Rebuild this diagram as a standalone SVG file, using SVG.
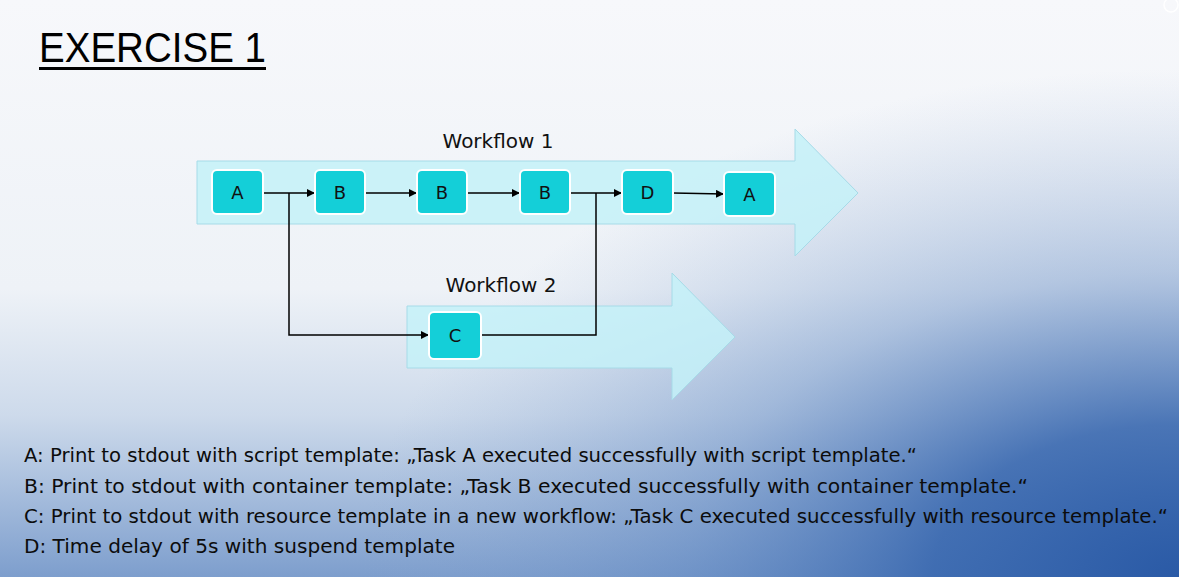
<svg xmlns="http://www.w3.org/2000/svg" width="1179" height="577" viewBox="0 0 1179 577">
<defs>
<linearGradient id="bgv" x1="0" y1="0" x2="0" y2="577" gradientUnits="userSpaceOnUse">
<stop offset="0" stop-color="#f7f8fb"/>
<stop offset="0.5" stop-color="#eef2f7"/>
<stop offset="0.72" stop-color="#cddaeb"/>
<stop offset="1" stop-color="#7d9ecd"/>
</linearGradient>
<radialGradient id="bgr" cx="1179" cy="577" r="820" gradientUnits="userSpaceOnUse" gradientTransform="translate(0,577) scale(1,0.62) translate(0,-577)">
<stop offset="0" stop-color="#2a5aa6" stop-opacity="1"/>
<stop offset="0.3" stop-color="#3464ad" stop-opacity="0.85"/>
<stop offset="0.6" stop-color="#5a83bf" stop-opacity="0.4"/>
<stop offset="1" stop-color="#8eaad3" stop-opacity="0"/>
</radialGradient>
<marker id="ah" viewBox="0 0 10 10" refX="10" refY="5" markerWidth="8" markerHeight="8" markerUnits="userSpaceOnUse" orient="auto">
<path d="M0,0 L10,5 L0,10 z" fill="#000"/>
</marker>
<style>
.band{fill:#c4f1f8;fill-opacity:0.85;stroke:#a6dbe8;stroke-width:1}
.node rect{fill:#14cfd8;stroke:#ffffff;stroke-width:2}
.node text{font-family:"DejaVu Sans",sans-serif;font-size:18px;fill:#111;text-anchor:middle}
.lbl{font-family:"DejaVu Sans",sans-serif;font-size:20px;fill:#111;text-anchor:middle}
.desc{font-family:"DejaVu Sans",sans-serif;font-size:19px;fill:#0c0c0c}
.conn{fill:none;stroke:#000;stroke-width:1.5}
</style>
</defs>
<rect x="0" y="0" width="1179" height="577" fill="url(#bgv)"/>
<rect x="0" y="0" width="1179" height="577" fill="url(#bgr)"/>
<circle cx="1171" cy="5" r="7" fill="none" stroke="#ffffff" stroke-width="1.5"/>

<g id="title">
<text x="39" y="62" font-family="'Liberation Sans',sans-serif" font-size="42" fill="#000" textLength="227" lengthAdjust="spacingAndGlyphs">EXERCISE 1</text>
<rect x="39" y="67" width="227" height="3" fill="#000"/>
</g>

<g id="workflow1">
<path class="band" d="M197,161 L795,161 L795,129 L858,193 L795,256 L795,224 L197,224 Z"/>
<text class="lbl" x="498" y="148">Workflow 1</text>
</g>
<g id="workflow2">
<path class="band" d="M407,306 L672,306 L672,273 L735,337 L672,400 L672,368 L407,368 Z"/>
<text class="lbl" x="501" y="292">Workflow 2</text>
</g>

<g id="connectors">
<path class="conn" d="M263,193 L315,193" marker-end="url(#ah)"/>
<path class="conn" d="M365,193 L417,193" marker-end="url(#ah)"/>
<path class="conn" d="M467,193 L520,193" marker-end="url(#ah)"/>
<path class="conn" d="M570,193 L622,193" marker-end="url(#ah)"/>
<path class="conn" d="M673,193 L724,194" marker-end="url(#ah)"/>
<path class="conn" d="M289,193 L289,335 L429,335" marker-end="url(#ah)"/>
<path class="conn" d="M481,335 L596,335 L596,193"/>
</g>

<g id="nodeA1" class="node"><rect x="212" y="170" width="51" height="44" rx="5"/><text x="237.5" y="199">A</text></g>
<g id="nodeB1" class="node"><rect x="315" y="170" width="50" height="44" rx="5"/><text x="340" y="199">B</text></g>
<g id="nodeB2" class="node"><rect x="417" y="170" width="50" height="44" rx="5"/><text x="442" y="199">B</text></g>
<g id="nodeB3" class="node"><rect x="520" y="170" width="50" height="44" rx="5"/><text x="545" y="199">B</text></g>
<g id="nodeD" class="node"><rect x="622" y="170" width="51" height="44" rx="5"/><text x="647.5" y="199">D</text></g>
<g id="nodeA2" class="node"><rect x="724" y="172" width="51" height="44" rx="5"/><text x="749.5" y="201">A</text></g>
<g id="nodeC" class="node"><rect x="429" y="312" width="52" height="47" rx="5"/><text x="455" y="342">C</text></g>

<g id="description">
<text class="desc" x="24" y="462" textLength="893" lengthAdjust="spacingAndGlyphs">A: Print to stdout with script template: „Task A executed successfully with script template.“</text>
<text class="desc" x="24" y="493" textLength="1004" lengthAdjust="spacingAndGlyphs">B: Print to stdout with container template: „Task B executed successfully with container template.“</text>
<text class="desc" x="24" y="523" textLength="1144" lengthAdjust="spacingAndGlyphs">C: Print to stdout with resource template in a new workflow: „Task C executed successfully with resource template.“</text>
<text class="desc" x="24" y="553" textLength="431" lengthAdjust="spacingAndGlyphs">D: Time delay of 5s with suspend template</text>
</g>
</svg>
